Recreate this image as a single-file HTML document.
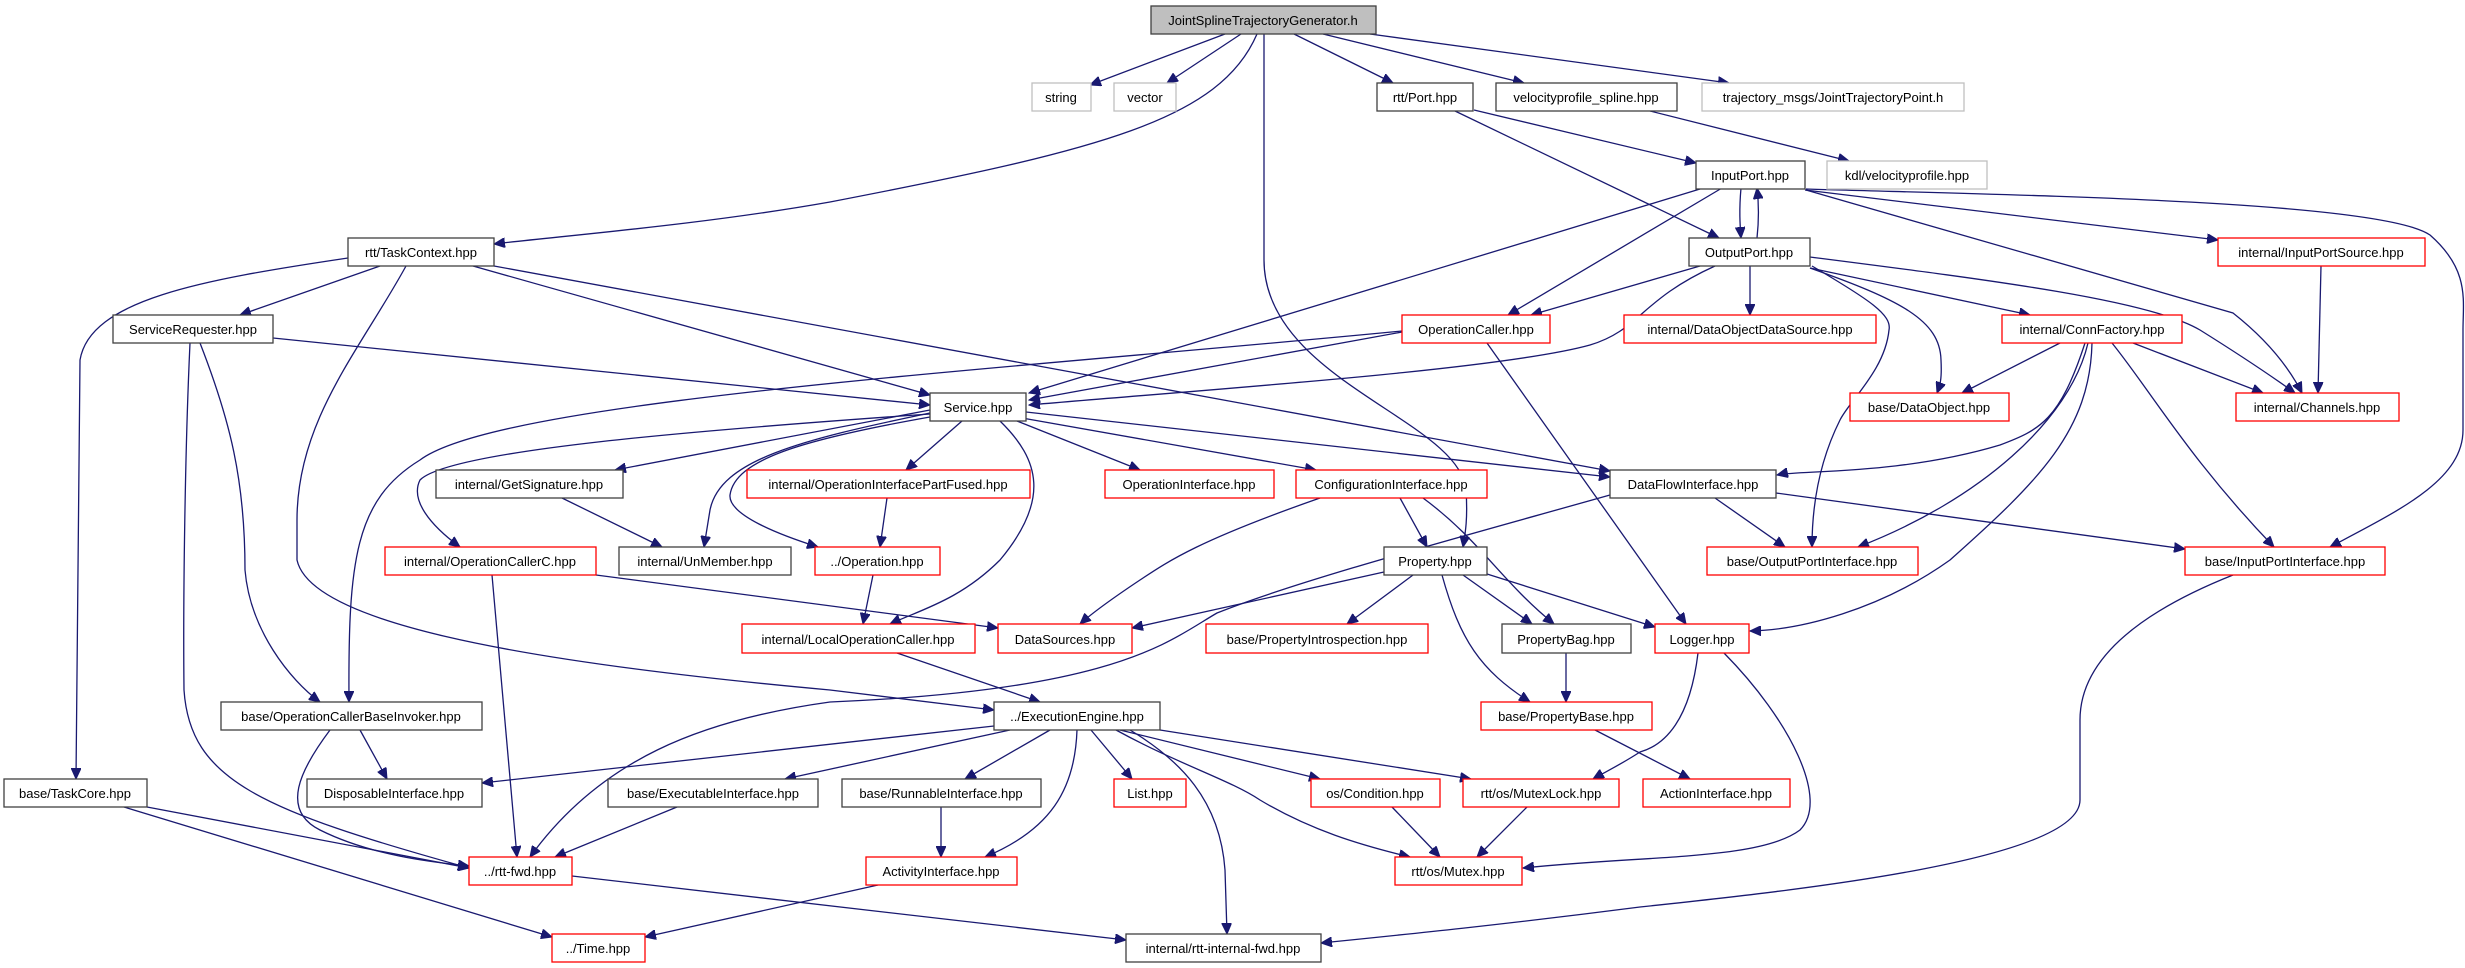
<!DOCTYPE html>
<html><head><meta charset="utf-8"><style>
html,body{margin:0;padding:0;background:#fff;}
svg{display:block;}
text{font-family:"Liberation Sans",sans-serif;font-size:13px;fill:#000;text-anchor:middle;}
.e{fill:none;stroke:#191970;stroke-width:1.3;marker-end:url(#a);}
.k{fill:#fff;stroke:#404040;stroke-width:1.3;}
.r{fill:#fff;stroke:#ff0000;stroke-width:1.3;}
.g{fill:#fff;stroke:#bfbfbf;stroke-width:1.3;}
</style></head><body>
<svg width="2465" height="968" viewBox="0 0 2465 968" xmlns="http://www.w3.org/2000/svg">
<defs><marker id="a" markerWidth="12" markerHeight="10" refX="11" refY="5" orient="auto" markerUnits="userSpaceOnUse"><path d="M0,0 L11,5 L0,10 z" fill="#191970" stroke="#191970"/></marker></defs>
<g>
<path class="e" d="M1225,34 L1090,85"/>
<path class="e" d="M1241,34 L1167,83"/>
<path class="e" d="M1294,34 L1393,83"/>
<path class="e" d="M1323,34 L1524,83"/>
<path class="e" d="M1370,34 L1729,83"/>
<path class="e" d="M1257,34 C1220,120 1100,150 830,202 C700,225 560,236 494,244"/>
<path class="e" d="M1264,34 L1264,260 C1264,380 1460,420 1466,490 C1468,520 1465,535 1463,547"/>
<path class="e" d="M1474,110 L1696,163"/>
<path class="e" d="M1455,111 L1719,238"/>
<path class="e" d="M1650,111 L1849,161"/>
<path class="e" d="M1741,188 C1739,210 1740,225 1741,238"/>
<path class="e" d="M1757,238 C1759,220 1759,205 1757,188"/>
<path class="e" d="M1805,190 L2218,240"/>
<path class="e" d="M1806,190 L2233,313 Q2280,350 2302,393"/>
<path class="e" d="M1806,189 C2000,195 2380,200 2430,235 C2470,270 2463,300 2463,330 L2463,430 C2463,480 2400,510 2330,547"/>
<path class="e" d="M1722,188 L1508,315"/>
<path class="e" d="M1700,189 L1029,393"/>
<path class="e" d="M1700,266 L1531,315"/>
<path class="e" d="M1715,266 C1640,300 1640,330 1590,345 C1500,370 1200,390 1029,405"/>
<path class="e" d="M1750,266 L1750,315"/>
<path class="e" d="M1810,268 L2030,315"/>
<path class="e" d="M1810,268 C1900,300 1940,320 1941,360 C1942,380 1940,385 1937,393"/>
<path class="e" d="M1810,257 C1990,280 2150,300 2200,330 C2240,355 2270,375 2295,393"/>
<path class="e" d="M1812,266 C1870,300 1892,315 1889,330 C1885,370 1850,400 1840,420 C1815,470 1812,520 1812,547"/>
<path class="e" d="M2321,266 L2318,393"/>
<path class="e" d="M2060,343 L1962,393"/>
<path class="e" d="M2133,343 L2263,393"/>
<path class="e" d="M2085,343 C2060,420 2040,430 2000,445 C1900,475 1800,470 1777,475"/>
<path class="e" d="M2088,343 C2070,420 1980,500 1858,547"/>
<path class="e" d="M2112,343 C2150,390 2190,460 2274,547"/>
<path class="e" d="M2092,343 C2090,430 2040,480 1950,560 C1880,610 1800,630 1750,631"/>
<path class="e" d="M380,266 L240,315"/>
<path class="e" d="M473,266 L930,395"/>
<path class="e" d="M494,266 L1610,471"/>
<path class="e" d="M348,258 C200,280 90,300 80,360 L76,779"/>
<path class="e" d="M406,266 C360,350 297,420 297,520 L297,560 C310,620 500,660 830,690 L994,710"/>
<path class="e" d="M273,338 L930,405"/>
<path class="e" d="M200,343 C230,420 245,480 245,570 C250,630 290,680 320,702"/>
<path class="e" d="M190,343 C185,450 183,600 184,690 C190,780 260,810 469,868"/>
<path class="e" d="M1402,332 L1029,400"/>
<path class="e" d="M1402,331 C1000,370 500,400 420,460 C355,500 348,560 349,702"/>
<path class="e" d="M1487,343 L1686,624"/>
<path class="e" d="M930,410 L615,470"/>
<path class="e" d="M930,413 C800,440 720,460 710,510 L704,547"/>
<path class="e" d="M962,421 L906,470"/>
<path class="e" d="M930,417 C800,440 735,460 730,495 C728,515 780,535 818,547"/>
<path class="e" d="M1000,421 C1040,460 1050,500 1000,560 C960,600 920,610 890,624"/>
<path class="e" d="M1017,421 L1140,470"/>
<path class="e" d="M1022,418 L1316,470"/>
<path class="e" d="M1026,412 L1610,477"/>
<path class="e" d="M930,414 C700,430 450,450 420,480 C410,500 430,525 460,547"/>
<path class="e" d="M562,498 L662,547"/>
<path class="e" d="M887,498 L880,547"/>
<path class="e" d="M873,575 L863,624"/>
<path class="e" d="M596,575 L998,628"/>
<path class="e" d="M492,575 L517,857"/>
<path class="e" d="M897,653 L1040,702"/>
<path class="e" d="M1320,498 C1200,540 1170,560 1140,580 C1110,600 1090,615 1080,624"/>
<path class="e" d="M1400,498 L1427,547"/>
<path class="e" d="M1423,498 C1480,540 1500,580 1554,624"/>
<path class="e" d="M1715,498 L1785,547"/>
<path class="e" d="M1776,493 L2185,549"/>
<path class="e" d="M1610,495 C1450,540 1300,580 1217,613 C1170,640 1120,690 830,702 C700,720 600,760 530,857"/>
<path class="e" d="M1384,572 L1132,628"/>
<path class="e" d="M1413,575 L1347,624"/>
<path class="e" d="M1463,575 L1532,624"/>
<path class="e" d="M1442,575 C1460,640 1480,670 1530,702"/>
<path class="e" d="M1487,574 L1655,627"/>
<path class="e" d="M1566,653 L1566,702"/>
<path class="e" d="M1595,730 L1690,779"/>
<path class="e" d="M1698,653 C1690,720 1665,745 1640,752 C1620,765 1605,772 1593,779"/>
<path class="e" d="M1724,653 C1790,720 1830,800 1800,830 C1760,860 1650,855 1523,868"/>
<path class="e" d="M2233,575 C2120,620 2080,670 2080,720 L2080,800 C2080,860 1800,890 1640,907 C1500,925 1400,935 1321,943"/>
<path class="e" d="M360,730 L387,779"/>
<path class="e" d="M330,730 C300,770 280,810 320,830 C370,855 430,862 469,866"/>
<path class="e" d="M994,726 L482,783"/>
<path class="e" d="M1010,730 L785,779"/>
<path class="e" d="M1050,730 L965,779"/>
<path class="e" d="M1091,730 L1132,779"/>
<path class="e" d="M1120,730 L1320,779"/>
<path class="e" d="M1160,730 L1471,779"/>
<path class="e" d="M1116,730 C1180,765 1230,780 1260,800 C1310,830 1360,845 1410,857"/>
<path class="e" d="M1077,730 C1075,790 1050,830 985,857"/>
<path class="e" d="M1130,730 C1180,760 1220,800 1225,870 L1227,934"/>
<path class="e" d="M147,807 L469,868"/>
<path class="e" d="M124,807 L552,937"/>
<path class="e" d="M677,807 L555,857"/>
<path class="e" d="M941,807 L941,857"/>
<path class="e" d="M878,885 L645,937"/>
<path class="e" d="M1392,807 L1440,857"/>
<path class="e" d="M1527,807 L1477,857"/>
<path class="e" d="M572,876 L1126,940"/>
</g>
<g>
<rect x="1151" y="6" width="225" height="28" fill="#bfbfbf" stroke="#404040" stroke-width="1.3"/><text x="1263" y="25">JointSplineTrajectoryGenerator.h</text>
<rect class="g" x="1032" y="83" width="59" height="28"/><text x="1061" y="102">string</text>
<rect class="g" x="1114" y="83" width="62" height="28"/><text x="1145" y="102">vector</text>
<rect class="k" x="1377" y="83" width="96" height="28"/><text x="1425" y="102">rtt/Port.hpp</text>
<rect class="k" x="1496" y="83" width="181" height="28"/><text x="1586" y="102">velocityprofile_spline.hpp</text>
<rect class="g" x="1702" y="83" width="262" height="28"/><text x="1833" y="102">trajectory_msgs/JointTrajectoryPoint.h</text>
<rect class="k" x="1696" y="161" width="109" height="28"/><text x="1750" y="180">InputPort.hpp</text>
<rect class="g" x="1827" y="161" width="160" height="28"/><text x="1907" y="180">kdl/velocityprofile.hpp</text>
<rect class="k" x="1689" y="238" width="121" height="28"/><text x="1749" y="257">OutputPort.hpp</text>
<rect class="r" x="2218" y="238" width="207" height="28"/><text x="2321" y="257">internal/InputPortSource.hpp</text>
<rect class="k" x="348" y="238" width="146" height="28"/><text x="421" y="257">rtt/TaskContext.hpp</text>
<rect class="k" x="113" y="315" width="160" height="28"/><text x="193" y="334">ServiceRequester.hpp</text>
<rect class="r" x="1402" y="315" width="148" height="28"/><text x="1476" y="334">OperationCaller.hpp</text>
<rect class="r" x="1624" y="315" width="252" height="28"/><text x="1750" y="334">internal/DataObjectDataSource.hpp</text>
<rect class="r" x="2002" y="315" width="180" height="28"/><text x="2092" y="334">internal/ConnFactory.hpp</text>
<rect class="k" x="930" y="393" width="96" height="28"/><text x="978" y="412">Service.hpp</text>
<rect class="r" x="1850" y="393" width="159" height="28"/><text x="1929" y="412">base/DataObject.hpp</text>
<rect class="r" x="2236" y="393" width="163" height="28"/><text x="2317" y="412">internal/Channels.hpp</text>
<rect class="k" x="436" y="470" width="187" height="28"/><text x="529" y="489">internal/GetSignature.hpp</text>
<rect class="r" x="747" y="470" width="283" height="28"/><text x="888" y="489">internal/OperationInterfacePartFused.hpp</text>
<rect class="r" x="1105" y="470" width="169" height="28"/><text x="1189" y="489">OperationInterface.hpp</text>
<rect class="r" x="1296" y="470" width="191" height="28"/><text x="1391" y="489">ConfigurationInterface.hpp</text>
<rect class="k" x="1610" y="470" width="166" height="28"/><text x="1693" y="489">DataFlowInterface.hpp</text>
<rect class="r" x="385" y="547" width="211" height="28"/><text x="490" y="566">internal/OperationCallerC.hpp</text>
<rect class="k" x="619" y="547" width="172" height="28"/><text x="705" y="566">internal/UnMember.hpp</text>
<rect class="r" x="815" y="547" width="125" height="28"/><text x="877" y="566">../Operation.hpp</text>
<rect class="k" x="1384" y="547" width="103" height="28"/><text x="1435" y="566">Property.hpp</text>
<rect class="r" x="1707" y="547" width="211" height="28"/><text x="1812" y="566">base/OutputPortInterface.hpp</text>
<rect class="r" x="2185" y="547" width="200" height="28"/><text x="2285" y="566">base/InputPortInterface.hpp</text>
<rect class="r" x="742" y="624" width="233" height="29"/><text x="858" y="644">internal/LocalOperationCaller.hpp</text>
<rect class="r" x="998" y="624" width="134" height="29"/><text x="1065" y="644">DataSources.hpp</text>
<rect class="r" x="1206" y="624" width="222" height="29"/><text x="1317" y="644">base/PropertyIntrospection.hpp</text>
<rect class="k" x="1502" y="624" width="129" height="29"/><text x="1566" y="644">PropertyBag.hpp</text>
<rect class="r" x="1655" y="624" width="94" height="29"/><text x="1702" y="644">Logger.hpp</text>
<rect class="k" x="221" y="702" width="261" height="28"/><text x="351" y="721">base/OperationCallerBaseInvoker.hpp</text>
<rect class="k" x="994" y="702" width="166" height="28"/><text x="1077" y="721">../ExecutionEngine.hpp</text>
<rect class="r" x="1481" y="702" width="171" height="28"/><text x="1566" y="721">base/PropertyBase.hpp</text>
<rect class="k" x="4" y="779" width="143" height="28"/><text x="75" y="798">base/TaskCore.hpp</text>
<rect class="k" x="307" y="779" width="175" height="28"/><text x="394" y="798">DisposableInterface.hpp</text>
<rect class="k" x="608" y="779" width="210" height="28"/><text x="713" y="798">base/ExecutableInterface.hpp</text>
<rect class="k" x="842" y="779" width="199" height="28"/><text x="941" y="798">base/RunnableInterface.hpp</text>
<rect class="r" x="1114" y="779" width="72" height="28"/><text x="1150" y="798">List.hpp</text>
<rect class="r" x="1311" y="779" width="129" height="28"/><text x="1375" y="798">os/Condition.hpp</text>
<rect class="r" x="1463" y="779" width="156" height="28"/><text x="1541" y="798">rtt/os/MutexLock.hpp</text>
<rect class="r" x="1643" y="779" width="147" height="28"/><text x="1716" y="798">ActionInterface.hpp</text>
<rect class="r" x="469" y="857" width="103" height="28"/><text x="520" y="876">../rtt-fwd.hpp</text>
<rect class="r" x="866" y="857" width="151" height="28"/><text x="941" y="876">ActivityInterface.hpp</text>
<rect class="r" x="1395" y="857" width="127" height="28"/><text x="1458" y="876">rtt/os/Mutex.hpp</text>
<rect class="r" x="552" y="934" width="93" height="28"/><text x="598" y="953">../Time.hpp</text>
<rect class="k" x="1126" y="934" width="195" height="28"/><text x="1223" y="953">internal/rtt-internal-fwd.hpp</text>
</g>
</svg>
</body></html>
